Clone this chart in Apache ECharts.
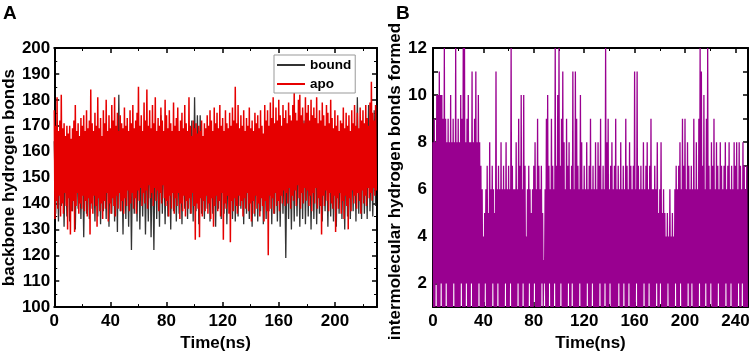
<!DOCTYPE html>
<html>
<head>
<meta charset="utf-8">
<script src="https://cdn.jsdelivr.net/npm/echarts@6/dist/echarts.min.js"></script>
<style>
html,body{margin:0;padding:0;background:#fff;}
#chart{width:754px;height:357px;}
</style>
</head>
<body>
<div id="chart"></div>
<script>
// Panel A: backbone hydrogen bonds, apo sampled every 0.5 ns, bound every 1 ns
const apoStep = 0.5;
const apoValues = [
176,134,170,141,181,138,168,143,172,135,
182,140,169,136,171,144,166,139,170,130,
167,142,170,128,165,137,169,141,172,129,
178,139,168,144,171,136,166,140,173,138,
170,143,174,137,168,141,176,135,169,142,
172,128,184,140,171,136,168,143,175,139,
170,131,181,142,169,137,173,140,166,134,
176,141,171,138,180,144,168,133,174,140,
169,136,178,142,172,139,181,135,170,143,
175,138,168,144,174,137,171,141,169,136,
177,142,170,139,173,145,168,137,176,140,
171,144,178,138,169,142,172,136,175,145,
185,141,170,146,174,139,168,144,179,140,
172,145,184,138,170,147,176,142,169,144,
178,139,171,146,181,141,168,145,173,137,
170,144,177,140,172,147,168,142,180,139,
174,141,169,135,176,143,171,138,168,144,
179,136,170,142,173,139,177,144,168,134,
172,140,175,137,169,143,178,135,171,141,
168,138,181,142,170,136,166,144,172,139,
169,126,171,140,167,138,170,127,168,142,
172,135,166,141,171,137,169,143,174,136,
170,140,176,134,172,142,168,131,177,139,
171,143,175,137,169,141,178,135,170,144,
173,126,168,140,176,138,171,143,169,136,
175,125,170,141,177,137,172,142,185,139,
171,136,178,143,169,139,174,141,170,135,
176,142,168,138,173,144,170,137,177,140,
169,133,172,141,168,136,175,143,171,138,
174,140,169,135,176,142,170,139,167,133,
178,141,172,137,176,120,170,143,179,138,
173,142,181,136,171,144,177,139,172,141,
180,137,174,143,170,140,178,145,173,139,
176,144,171,140,179,146,174,138,172,143,
178,141,184,145,175,139,172,147,180,142,
182,138,174,144,177,140,171,146,181,141,
175,145,178,139,172,143,180,137,174,144,
177,140,173,146,181,138,171,142,176,139,
172,128,179,143,174,139,170,145,178,141,
175,137,171,144,180,140,173,138,169,143,
176,129,170,142,174,138,168,144,172,136,
171,141,177,134,169,143,175,139,170,130,
174,142,168,137,176,145,171,140,178,143,
170,138,175,144,169,141,177,136,172,145,
176,140,171,143,178,139,173,146,170,142,
179,144,187,141,175,146,172,143,178,145
];
const boundStep = 1;
const boundValues = [
164,136,166,133,162,139,165,131,160,135,
163,133,161,137,165,130,162,138,160,134,
162,127,165,136,163,134,166,138,161,133,
165,135,162,132,166,137,163,134,167,131,
164,136,168,133,163,129,182,137,162,128,
166,134,163,131,167,122,164,136,161,133,
167,130,163,135,165,128,162,133,166,127,
164,122,168,134,163,131,174,136,162,132,
165,135,162,130,167,137,163,133,161,136,
166,132,163,138,164,134,162,136,172,133,
181,137,174,132,174,136,163,134,160,138,
164,133,162,136,167,131,163,138,165,134,
163,136,166,132,161,137,164,134,167,133,
163,135,162,138,165,132,163,136,166,134,
164,131,161,135,167,133,163,137,162,132,
167,134,163,137,165,132,169,136,164,133,
166,131,163,136,164,119,168,134,163,130,
166,133,170,135,164,131,167,134,172,132,
165,135,168,130,163,134,166,132,162,136,
167,133,164,137,162,131,165,135,163,133,
162,131,165,136,163,134,161,130,166,135,
164,134,162,137,167,133,181,136,163,134,
166,136,162,134,178,137,164,135,176,139
];
// Panel B: intermolecular hydrogen bonds, every 0.5 ns
const hbStep = 0.5;
const hbValues = [
8,1,9,1,8,2,10,1,10,1,
11,1,10,2,10,1,9,1,12,1,
9,2,8,1,9,1,8,1,10,1,
8,1,9,2,8,1,12,1,8,1,
9,1,8,1,10,2,9,1,12,1,
12,1,8,2,9,1,10,1,8,1,
8,2,11,1,8,1,9,1,11,1,
8,1,10,2,8,1,7,1,6,1,
4,1,5,2,6,1,7,1,5,1,
8,1,6,1,7,2,6,1,5,1,
11,1,6,2,7,1,6,1,8,1,
6,1,7,1,6,2,8,1,6,1,
7,1,6,2,12,1,7,1,6,1,
6,1,8,1,6,2,9,1,7,1,
10,1,6,2,10,1,7,1,4,1,
6,1,7,2,6,1,5,1,6,1,
7,2,8,1,6,1,9,1,7,1,
6,1,7,2,5,1,3,2,6,1,
9,1,10,1,7,2,6,1,9,1,
7,1,6,2,12,1,7,1,10,1,
12,1,7,2,9,1,11,1,8,1,
6,1,9,1,7,2,8,1,6,1,
7,2,11,1,6,1,11,1,9,1,
7,1,6,2,10,1,8,1,6,1,
7,1,6,1,8,2,6,1,7,1,
9,1,6,2,7,1,6,1,8,1,
6,1,8,1,7,2,9,1,6,1,
7,1,6,2,12,1,8,1,9,1,
6,2,7,1,8,1,6,1,7,1,
9,1,6,1,7,2,6,1,8,1,
6,1,7,2,6,1,9,1,7,1,
6,2,8,1,7,1,6,1,7,1,
11,1,6,2,11,1,7,1,6,1,
7,1,6,1,8,2,6,1,7,1,
8,1,6,2,7,1,9,1,6,1,
6,1,7,1,6,2,8,1,5,1,
6,2,8,1,5,1,6,1,5,1,
4,1,5,2,4,1,6,1,4,1,
5,1,4,1,6,2,7,1,6,1,
7,1,8,2,6,1,9,1,7,1,
9,1,6,1,8,2,7,1,6,1,
7,2,6,1,9,1,6,1,8,1,
6,1,9,2,12,1,11,1,7,1,
10,1,6,2,9,1,12,1,7,1,
6,2,8,1,7,1,9,1,6,1,
8,1,7,2,6,1,8,1,7,1,
6,1,7,1,8,2,6,1,7,1,
8,1,6,2,7,1,6,1,8,1,
7,1,8,1,6,2,8,1,7,1,
6,2,8,1,7,1,6,1,7,1
];
const yLabelsB = [2, 4, 6, 8, 10, 12];

const FONT = '"Liberation Sans", Arial, sans-serif';
const lbl = {color:'#000', fontFamily:FONT, fontWeight:'bold', fontSize:17};
const axLine = {show:true, onZero:false, lineStyle:{color:'#000', width:2}};
const tick = {show:true, inside:true, length:5, lineStyle:{color:'#000', width:1.5}};
const minor = {show:true, splitNumber:2, length:3, lineStyle:{color:'#000', width:1}};

function xAx(grid, pos, max, show){
  return {type:'value', gridIndex:grid, position:pos, min:0, max:max, interval:40,
    axisLine:axLine, axisTick:tick, minorTick:minor, splitLine:{show:false},
    axisLabel: show ? Object.assign({margin:6, showMaxLabel:false}, lbl) : {show:false},
    name: show ? 'Time(ns)' : '', nameLocation:'middle', nameGap:25,
    nameTextStyle: lbl};
}

const chart = echarts.init(document.getElementById('chart'), null, {renderer:'canvas'});
chart.setOption({
  animation:false,
  backgroundColor:'#fff',
  graphic:[
    {type:'text', left:3, top:4, style:{text:'A', font:'bold 19px ' + FONT, fill:'#000'}},
    {type:'text', left:396, top:4, style:{text:'B', font:'bold 19px ' + FONT, fill:'#000'}}
  ],
  legend:{
    data:[{name:'bound', icon:'rect'},{name:'apo', icon:'rect'}], orient:'vertical', left:274, top:55,
    itemWidth:28, itemHeight:2, itemGap:5,
    padding:[3,4,2,3], backgroundColor:'#fff', borderColor:'#999', borderWidth:1, borderRadius:0,
    textStyle:{color:'#000', fontFamily:FONT, fontWeight:'bold', fontSize:13.5}
  },
  grid:[
    {left:54, top:48, right:377, bottom:45},
    {left:433, top:48, right:6, bottom:45}
  ],
  xAxis:[
    xAx(0,'bottom',230,true),
    xAx(0,'top',230,false),
    xAx(1,'bottom',250,true),
    xAx(1,'top',250,false)
  ],
  yAxis:[
    {type:'value', gridIndex:0, position:'left', min:100, max:200, interval:10,
     axisLine:axLine, axisTick:tick, minorTick:minor, splitLine:{show:false},
     axisLabel:Object.assign({margin:4}, lbl),
     name:'backbone hydrogen bonds', nameLocation:'middle', nameGap:36, nameTextStyle:lbl},
    {type:'value', gridIndex:0, position:'right', min:100, max:200, interval:10,
     axisLine:axLine, axisTick:tick, minorTick:minor, splitLine:{show:false}, axisLabel:{show:false}},
    {type:'value', gridIndex:1, position:'left', min:1, max:12, interval:1,
     axisLine:axLine, axisTick:tick, splitLine:{show:false},
     axisLabel:Object.assign({margin:6, formatter:function(v){return yLabelsB.indexOf(v) >= 0 ? String(v) : '';}}, lbl),
     name:'intermolecular hydrogen bonds formed', nameLocation:'middle', nameGap:19,
     nameTextStyle:Object.assign({padding:[0,8,0,0]}, lbl)},
    {type:'value', gridIndex:1, position:'right', min:1, max:12, interval:1,
     axisLine:axLine, axisTick:tick, splitLine:{show:false}, axisLabel:{show:false}}
  ],
  series:[
    {name:'bound', type:'line', xAxisIndex:0, yAxisIndex:0, symbol:'none', z:2,
     data:boundValues.map((v,i)=>[i*boundStep, v]),
     lineStyle:{color:'#333', width:1.3}, itemStyle:{color:'#333'}},
    {name:'apo', type:'line', xAxisIndex:0, yAxisIndex:0, symbol:'none', z:3,
     data:apoValues.map((v,i)=>[i*apoStep, v]),
     lineStyle:{color:'#e60000', width:1.5}, itemStyle:{color:'#e60000'}},
    {name:'hbonds', type:'line', xAxisIndex:2, yAxisIndex:2, symbol:'none', z:2,
     data:hbValues.map((v,i)=>[i*hbStep, v]),
     lineStyle:{color:'#990090', width:1.3}, itemStyle:{color:'#990090'}}
  ]
});
</script>
</body>
</html>
